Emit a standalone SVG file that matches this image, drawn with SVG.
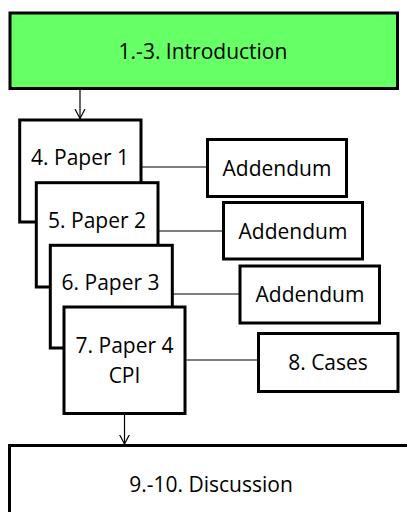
<svg xmlns="http://www.w3.org/2000/svg" width="407" height="512" viewBox="0 0 407 512">
<defs>
<style>
.box{fill:#ffffff;stroke:#000000;stroke-width:3}
.intro{fill:#66ff66;stroke:#000000;stroke-width:3}
.lbl{font-family:"Open Sans","Liberation Sans",sans-serif;font-size:21px;fill:#000000;text-anchor:middle}
.con{stroke:#000000;stroke-width:1.2;fill:none}
</style>
<marker id="vhead" viewBox="0 0 10 12" refX="9.5" refY="6" markerWidth="10" markerHeight="12" markerUnits="userSpaceOnUse" orient="auto">
<path d="M0,1 L9.5,6 L0,11" fill="none" stroke="#000000" stroke-width="1.2"/>
</marker>
</defs>
<rect width="407" height="512" fill="#ffffff"/>
<g id="connectors">
<line class="con" x1="141" y1="167" x2="207" y2="167"/>
<line class="con" x1="158" y1="231" x2="223" y2="231"/>
<line class="con" x1="172" y1="294" x2="240" y2="294"/>
<line class="con" x1="185" y1="360" x2="258" y2="360"/>
</g>
<g id="introduction">
<rect class="intro" x="10" y="13" width="387.5" height="75.5"/>
<text class="lbl" x="203" y="59">1.-3. Introduction</text>
</g>
<g id="paper1">
<rect class="box" x="19.7" y="120" width="121.3" height="102"/>
<text class="lbl" x="80" y="165">4. Paper 1</text>
</g>
<g id="paper2">
<rect class="box" x="36.3" y="182.7" width="121.7" height="104.3"/>
<text class="lbl" x="97" y="228">5. Paper 2</text>
</g>
<g id="paper3">
<rect class="box" x="50.3" y="245.3" width="122" height="102.7"/>
<text class="lbl" x="110.5" y="290">6. Paper 3</text>
</g>
<g id="paper4">
<rect class="box" x="64" y="307" width="121" height="106.5"/>
<text class="lbl" x="124.5" y="353">7. Paper 4</text>
<text class="lbl" x="124.5" y="383">CPI</text>
</g>
<g id="addendum1">
<rect class="box" x="207.5" y="139.5" width="139" height="57"/>
<text class="lbl" x="277" y="175.5">Addendum</text>
</g>
<g id="addendum2">
<rect class="box" x="223.5" y="202.5" width="139" height="56.5"/>
<text class="lbl" x="293" y="238.5">Addendum</text>
</g>
<g id="addendum3">
<rect class="box" x="240" y="266" width="139.5" height="57"/>
<text class="lbl" x="310" y="302">Addendum</text>
</g>
<g id="cases">
<rect class="box" x="258.5" y="333.5" width="139.5" height="58"/>
<text class="lbl" x="328" y="370">8. Cases</text>
</g>
<g id="discussion">
<rect class="box" x="9.5" y="445.5" width="410" height="80"/>
<text class="lbl" x="211" y="492">9.-10. Discussion</text>
</g>
<g id="arrows">
<line class="con" x1="80" y1="89" x2="80" y2="118.5" marker-end="url(#vhead)"/>
<line class="con" x1="124.5" y1="415" x2="124.5" y2="444" marker-end="url(#vhead)"/>
</g>
</svg>
